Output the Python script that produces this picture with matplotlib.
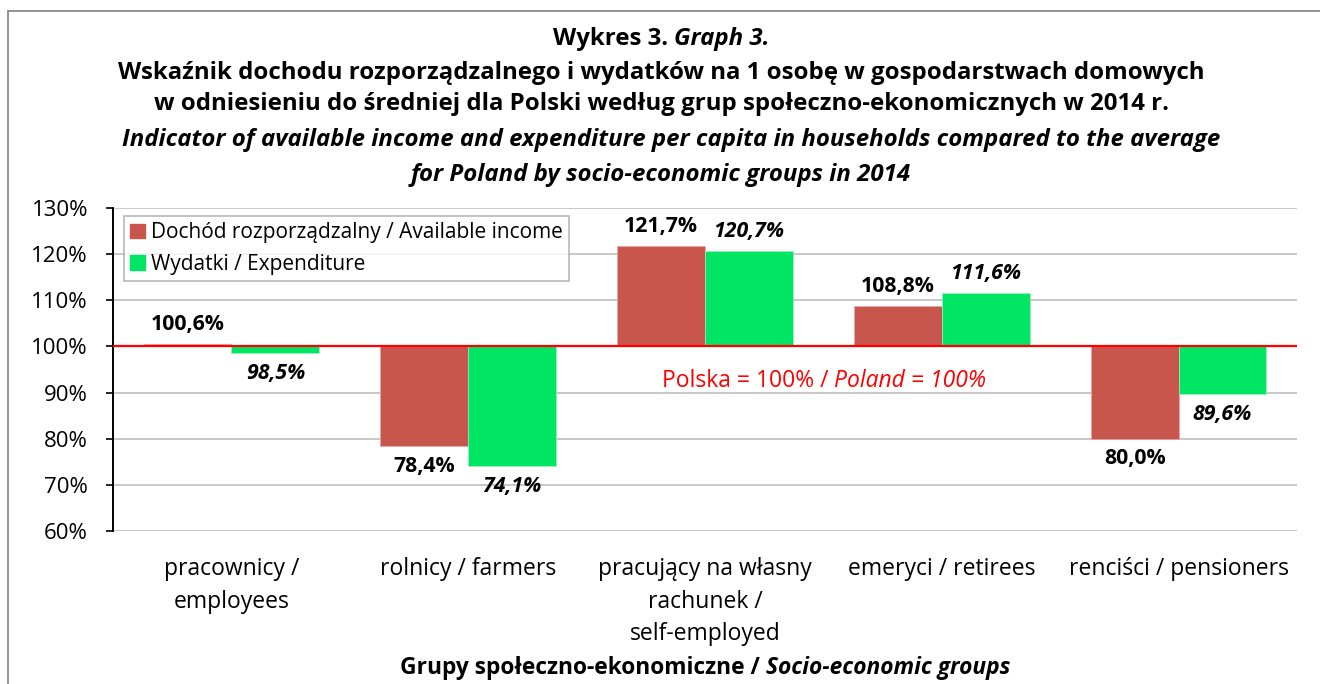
import matplotlib
matplotlib.use("Agg")
import matplotlib.pyplot as plt
import numpy as np
from matplotlib.patches import Rectangle, Patch

plt.rcParams["font.family"] = ["Open Sans", "DejaVu Sans"]

categories = [
    "pracownicy /\nemployees",
    "rolnicy / farmers",
    "pracujący na własny\nrachunek /\nself-employed",
    "emeryci / retirees",
    "renciści / pensioners",
]
income = [100.6, 78.4, 121.7, 108.8, 80.0]
expenditure = [98.5, 74.1, 120.7, 111.6, 89.6]
yticks = [60, 70, 80, 90, 100, 110, 120, 130]

RED = "#C9564C"
GREEN = "#00E664"
W, H = 1320, 684

fig = plt.figure(figsize=(W / 100, H / 100), dpi=100)
ax = fig.add_axes([113 / W, 1 - 531 / H, (1297 - 113) / W, (531 - 208) / H])


def fx(px):
    return px / W


def fy(py):
    return 1 - py / H


def mixed(x, y, parts, size, color="black"):
    # parts: list of (text, style, weight); centred on x
    renderer = fig.canvas.get_renderer()
    texts = []
    for s, style, weight in parts:
        t = fig.text(0, 0, s, fontsize=size, style=style, weight=weight,
                     color=color, va="center", ha="left", transform=None)
        texts.append(t)
    widths = [t.get_window_extent(renderer).width for t in texts]
    cx, cy = fig.transFigure.transform((x, y))
    left = cx - sum(widths) / 2
    for t, w in zip(texts, widths):
        t.set_position((left, cy))
        left += w


x = np.arange(len(categories))
bw = 0.371
ax.bar(x - bw / 2, np.array(income) - 100, bw, bottom=100, color=RED,
       edgecolor="#E8A8A4", linewidth=0.5)
ax.bar(x + bw / 2, np.array(expenditure) - 100, bw, bottom=100, color=GREEN,
       edgecolor="#9AF2BE", linewidth=0.5)

for i in range(len(categories)):
    for val, dx, st in [(income[i], -bw / 2, "normal"), (expenditure[i], bw / 2, "italic")]:
        off = 14 if val >= 100 else -14.5
        ax.annotate(f"{val:.1f}%".replace(".", ","), (x[i] + dx, val),
                    xytext=(0, off), textcoords="offset points",
                    ha="center", va="center", fontsize=15.3,
                    weight="bold", style=st)

ax.axhline(100, color="red", lw=1.6, zorder=3)

ax.set_xlim(-0.5, len(categories) - 0.5)
ax.set_ylim(60, 130)
ax.set_yticks(yticks)
ax.set_yticklabels([f"{v}%" for v in yticks], fontsize=16)
ax.set_xticks(x)
ax.set_xticklabels(categories, fontsize=16.5, linespacing=1.47)
ax.tick_params(axis="x", length=0, pad=19)
ax.tick_params(axis="y", length=5, width=1.2, pad=13)
ax.grid(axis="y", color="#BFBFBF", lw=1.2)
ax.set_axisbelow(True)
for s in ["top", "right", "bottom"]:
    ax.spines[s].set_visible(False)
ax.spines["left"].set_linewidth(1.4)

leg = ax.legend(
    handles=[Patch(color=RED), Patch(color=GREEN)],
    labels=["Dochód rozporządzalny / Available income", "Wydatki / Expenditure"],
    loc="upper left", bbox_to_anchor=((124 - 113) / 1184, (531 - 216) / 323),
    fontsize=15, frameon=True, fancybox=False, edgecolor="#A6A6A6",
    handlelength=0.7, handleheight=0.7, handletextpad=0.3,
    borderpad=0.3, labelspacing=0.5, borderaxespad=0,
)
leg.get_frame().set_linewidth(1.2)

# outer frame
fig.patches.append(Rectangle((fx(8), fy(H + 5)), 1.2, fy(11) - fy(H + 5),
                             transform=fig.transFigure, fill=False,
                             edgecolor="#808080", lw=1.2))

ts = 17.3
mixed(fx(661), fy(39), [("Wykres 3. ", "normal", "bold"), ("Graph 3.", "italic", "bold")], ts)
fig.text(fx(661), fy(73), "Wskaźnik dochodu rozporządzalnego i wydatków na 1 osobę w gospodarstwach domowych",
         fontsize=ts, weight="bold", ha="center", va="center")
fig.text(fx(661), fy(104), "w odniesieniu do średniej dla Polski według grup społeczno-ekonomicznych w 2014 r.",
         fontsize=ts, weight="bold", ha="center", va="center")
fig.text(fx(671), fy(140), "Indicator of available income and expenditure per capita in households compared to the average",
         fontsize=ts, weight="bold", style="italic", ha="center", va="center")
fig.text(fx(661), fy(175), "for Poland by socio-economic groups in 2014",
         fontsize=ts, weight="bold", style="italic", ha="center", va="center")

mixed(fx(705), fy(668), [("Grupy społeczno-ekonomiczne / ", "normal", "bold"),
                         ("Socio-economic groups", "italic", "bold")], 16.4)

mixed(fx(824), fy(381), [("Polska = 100% / ", "normal", "normal"),
                         ("Poland = 100%", "italic", "normal")], 16.5, color="red")

fig.savefig("out.png", dpi=100)
